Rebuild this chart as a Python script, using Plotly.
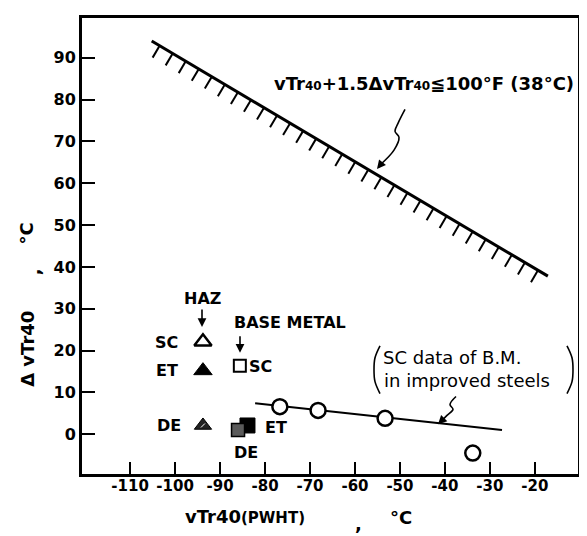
import numpy as np
import plotly.graph_objects as go

# ---------------- data ----------------
x_ticks = [-110, -100, -90, -80, -70, -60, -50, -40, -30, -20]
x_tick_labels = ["-110", "-100", "-90", "-80", "-70", "-60", "-50", "-40", "-30", "-20"]
y_ticks = [0, 10, 20, 30, 40, 50, 60, 70, 80, 90]
y_tick_labels = ["0", "10", "20", "30", "40", "50", "60", "70", "80", "90"]

# limit line  vTr40 + 1.5 dvTr40 <= 100F (38C)
limit_x = [-105.2, -17.1]
limit_y = [94.0, 37.8]

# HAZ
haz_sc_x, haz_sc_y = [-93.8], [22.1]
haz_et_x, haz_et_y = [-93.8], [15.2]
haz_de_x, haz_de_y = [-93.8], [2.1]

# base metal
bm_sc_x, bm_sc_y = [-85.6], [16.4]
bm_et_x, bm_et_y = [-83.9], [2.1]
bm_de_x, bm_de_y = [-86.0], [1.0]

# SC data of B.M. in improved steels
imp_x = [-76.7, -68.2, -53.3, -33.8]
imp_y = [6.6, 5.7, 3.8, -4.5]
imp_line_x = [-82.2, -27.3]
imp_line_y = [7.4, 1.0]

# ---------------- geometry helpers ----------------
W, H = 587, 536
OFF = 8                      # page body margin of the written html
PL, PR, PT, PB = 82, 578, 15, 474   # plot frame in page pixels
ML, MT = PL - OFF, PT - OFF
MR = W - (PR - OFF)
MB = H - (PB - OFF)
XR = [-120.7, -10.4]
YR = [-9.5, 99.5]
pw = PR - PL
ph = PB - PT


def px2x(px):
    return XR[0] + (px - PL) / pw * (XR[1] - XR[0])


def px2y(py):
    return YR[0] + (PB - py) / ph * (YR[1] - YR[0])


def pxp(px):
    return (px - PL) / pw


def pyp(py):
    return (PB - py) / ph


ux = (XR[1] - XR[0]) / pw   # data per pixel
uy = (YR[1] - YR[0]) / ph

FONT = "DejaVu Sans"
BLK = "black"

fig = go.Figure()

# limit line with hatches
fig.add_trace(go.Scatter(x=limit_x, y=limit_y, mode="lines",
                         line=dict(color=BLK, width=3), hoverinfo="skip"))
n_h = 30
t = np.linspace(0.02, 0.975, n_h)
hx0 = limit_x[0] + t * (limit_x[1] - limit_x[0])
hy0 = limit_y[0] + t * (limit_y[1] - limit_y[0])
hx, hy = [], []
for a, b in zip(hx0, hy0):
    hx += [a, a - 7 * ux, None]
    hy += [b, b - 12 * uy, None]
fig.add_trace(go.Scatter(x=hx, y=hy, mode="lines",
                         line=dict(color=BLK, width=2), hoverinfo="skip"))

# improved steels trend line + circles
fig.add_trace(go.Scatter(x=imp_line_x, y=imp_line_y, mode="lines",
                         line=dict(color=BLK, width=2), hoverinfo="skip"))
fig.add_trace(go.Scatter(x=imp_x, y=imp_y, mode="markers",
                         marker=dict(symbol="circle", size=15, color="white",
                                     line=dict(color=BLK, width=2.5))))

# HAZ markers
fig.add_trace(go.Scatter(x=haz_sc_x, y=haz_sc_y, mode="markers",
                         marker=dict(symbol="triangle-up", size=15, color="white",
                                     line=dict(color=BLK, width=2.5))))
fig.add_trace(go.Scatter(x=haz_et_x, y=haz_et_y, mode="markers",
                         marker=dict(symbol="triangle-up", size=16, color=BLK,
                                     line=dict(color=BLK, width=1))))
fig.add_trace(go.Scatter(x=haz_de_x, y=haz_de_y, mode="markers",
                         marker=dict(symbol="triangle-up", size=15, color="#222",
                                     line=dict(color=BLK, width=1))))
fig.add_trace(go.Scatter(x=haz_de_x, y=haz_de_y, mode="markers",
                         marker=dict(symbol="line-ne", size=4,
                                     line=dict(color="white", width=1))))

# base metal markers
fig.add_trace(go.Scatter(x=bm_sc_x, y=bm_sc_y, mode="markers",
                         marker=dict(symbol="square", size=12, color="white",
                                     line=dict(color=BLK, width=2))))
fig.add_trace(go.Scatter(x=bm_et_x, y=bm_et_y, mode="markers",
                         marker=dict(symbol="square", size=15, color=BLK,
                                     line=dict(color=BLK, width=1))))
fig.add_trace(go.Scatter(x=bm_de_x, y=bm_de_y, mode="markers",
                         marker=dict(symbol="square", size=13, color="#5a5a5a",
                                     line=dict(color=BLK, width=1.5))))

# squiggle arrows
sq1 = [(405, 107), (398, 121), (395, 129), (399, 135), (394, 148), (380, 163)]
fig.add_trace(go.Scatter(x=[px2x(p[0]) for p in sq1], y=[px2y(p[1]) for p in sq1],
                         mode="lines", line=dict(color=BLK, width=1.6, shape="spline"),
                         hoverinfo="skip"))
sq2 = [(456, 396), (450, 404), (453, 409), (447, 415), (441, 421)]
fig.add_trace(go.Scatter(x=[px2x(p[0]) for p in sq2], y=[px2y(p[1]) for p in sq2],
                         mode="lines", line=dict(color=BLK, width=1.6, shape="spline"),
                         hoverinfo="skip"))

# parentheses around the improved-steel note
lp = [(380, 345), (375, 357), (374, 369), (375, 381), (380, 393)]
rp = [(567, 345), (572, 357), (573, 369), (572, 381), (567, 393)]
for pp in (lp, rp):
    fig.add_trace(go.Scatter(x=[px2x(p[0]) for p in pp], y=[px2y(p[1]) for p in pp],
                             mode="lines", line=dict(color=BLK, width=1.6, shape="spline"),
                             hoverinfo="skip"))

ann = []


def txt(px, py, s, size=17, anchor="center", bold=True, angle=0):
    ann.append(dict(x=pxp(px), y=pyp(py), xref="paper", yref="paper", text=s,
                    showarrow=False, xanchor=anchor, yanchor="middle", textangle=angle,
                    font=dict(family=FONT, size=size, color=BLK,
                              weight="bold" if bold else "normal")))


def arrow(px, py, dx, dy, head=2):
    ann.append(dict(x=pxp(px), y=pyp(py), xref="paper", yref="paper", text="",
                    showarrow=True, ax=dx, ay=dy, arrowhead=head, arrowsize=1.1,
                    arrowwidth=1.6, arrowcolor=BLK))


arrow(377, 167, 4, -5)
arrow(438, 424, 4, -4)
arrow(202, 326, 0, -19)
arrow(240, 352, 0, -18)

s40 = '<span style="font-size:12px">40</span>'
txt(424, 81, "vTr" + s40 + "+1.5\u0394vTr" + s40 + "\u2266100\u00b0F (38\u00b0C)", size=18)

txt(381, 357, "SC data of B.M.", size=18, anchor="left", bold=False)
txt(382, 380, "in improved steels", size=18, anchor="left", bold=False)

txt(202, 297, "HAZ", size=16)
txt(232, 322, "BASE METAL", size=16, anchor="left")
txt(166, 342, "SC", size=16)
txt(167, 370, "ET", size=16)
txt(169, 425, "DE", size=16)
txt(247, 366, "SC", size=16, anchor="left")
txt(263, 427, "ET", size=16, anchor="left")
txt(246, 452, "DE", size=16)

# axis titles
txt(183, 517, 'vTr40<span style="font-size:15px">(PWHT)</span>', size=18, anchor="left")
txt(358, 524, ",", size=18)
txt(401, 518, "\u00b0C", size=18)
txt(28, 348, "\u0394 vTr40", size=18, angle=-90)
txt(33, 271, ",", size=18, angle=-90)
txt(27, 232, "\u00b0C", size=18, angle=-90)

fig.update_layout(
    width=W, height=H,
    margin=dict(l=ML, r=MR, t=MT, b=MB),
    paper_bgcolor="white", plot_bgcolor="white",
    showlegend=False,
    annotations=ann,
    xaxis=dict(range=XR, tickvals=x_ticks, ticktext=x_tick_labels,
               ticks="inside", ticklen=12, tickwidth=2, tickcolor=BLK,
               showline=True, linewidth=3, linecolor=BLK, mirror=True,
               showgrid=False, zeroline=False, ticklabelstandoff=-4,
               tickfont=dict(family=FONT, size=15, color=BLK, weight="bold")),
    yaxis=dict(range=YR, tickvals=y_ticks, ticktext=y_tick_labels,
               ticks="inside", ticklen=13, tickwidth=2, tickcolor=BLK,
               showline=True, linewidth=3, linecolor=BLK, mirror=True,
               showgrid=False, zeroline=False,
               tickfont=dict(family=FONT, size=16, color=BLK, weight="bold")),
)

fig.write_html("out.html")
